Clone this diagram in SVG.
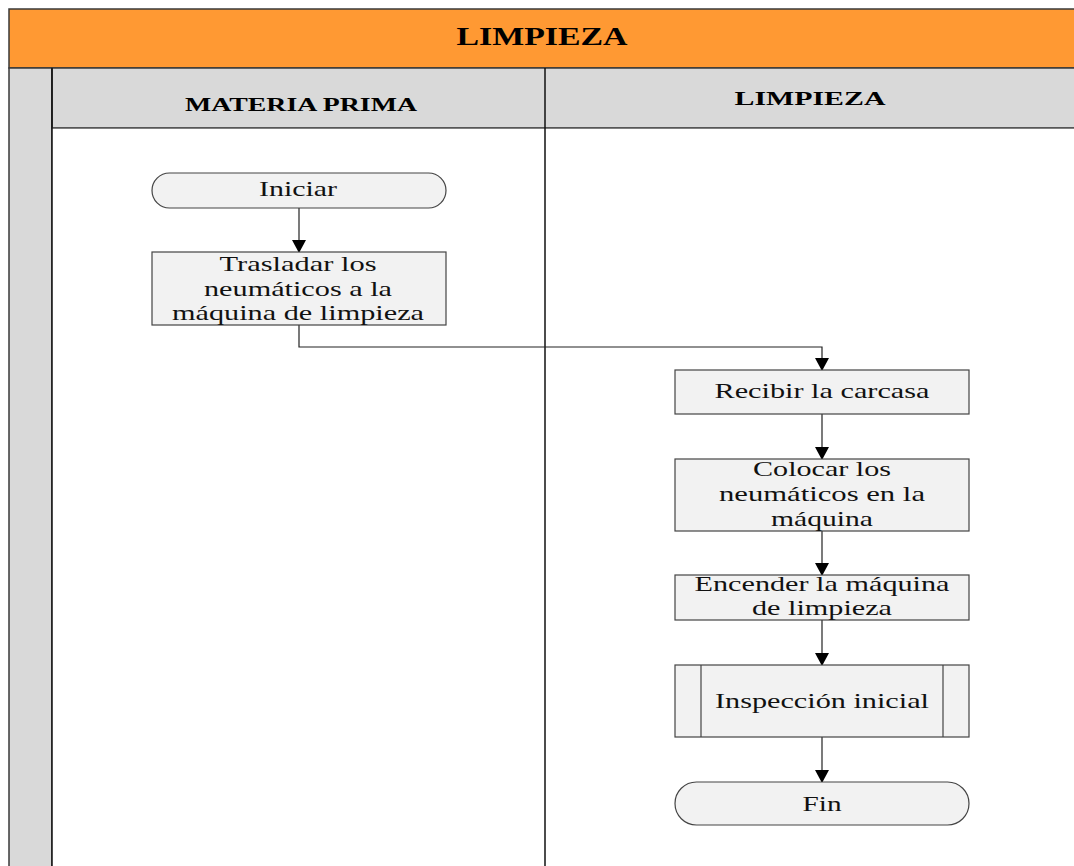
<svg xmlns="http://www.w3.org/2000/svg" width="1074" height="866" viewBox="0 0 1074 866">
  <style>
    .frame { stroke: #3a3a3a; stroke-width: 1.5; }
    .node { fill: #f2f2f2; stroke: #444; stroke-width: 1.2; }
    .txt { font-family: "Liberation Serif", "Times New Roman", serif; font-size: 21px; fill: #111; text-anchor: middle; }
    .hdr { font-family: "Liberation Serif", "Times New Roman", serif; font-weight: bold; fill: #000; text-anchor: middle; }
    .edge { fill: none; stroke: #222; stroke-width: 1.2; }
  </style>
  <defs>
    <marker id="arrow" markerWidth="14" markerHeight="14" refX="12" refY="7" orient="auto" markerUnits="userSpaceOnUse" viewBox="0 0 14 14">
      <path d="M0,0 L13,7 L0,14 Z" fill="#000"/>
    </marker>
  </defs>

  <rect width="1074" height="866" fill="#fff"/>

  <!-- pool title bar -->
  <g id="pool-title">
    <rect x="9" y="9" width="1080" height="59" fill="#ff9933" class="frame"/>
    <text class="hdr" x="542" y="45" font-size="26" textLength="171" lengthAdjust="spacingAndGlyphs">LIMPIEZA</text>
  </g>

  <!-- left pool strip -->
  <g id="pool-strip">
    <rect x="9" y="68" width="43" height="810" fill="#d9d9d9" class="frame"/>
  </g>

  <!-- lane headers -->
  <g id="lane-headers">
    <rect x="52" y="68" width="1030" height="60" fill="#d9d9d9" class="frame"/>
    <rect x="52" y="128" width="1030" height="750" fill="#fff" stroke="none"/>
    <line x1="52" y1="128" x2="1074" y2="128" stroke="#555" stroke-width="1.5"/>
    <line x1="545" y1="68" x2="545" y2="866" stroke="#111" stroke-width="1.5"/>
    <line x1="52" y1="68" x2="52" y2="866" stroke="#111" stroke-width="1.5"/>
    <text class="hdr" x="301" y="111" font-size="19" textLength="232" lengthAdjust="spacingAndGlyphs">MATERIA PRIMA</text>
    <text class="hdr" x="810" y="105" font-size="19" textLength="151" lengthAdjust="spacingAndGlyphs">LIMPIEZA</text>
  </g>

  <!-- connectors -->
  <g id="connectors">
    <path class="edge" d="M299,208 V252" marker-end="url(#arrow)"/>
    <path class="edge" d="M299,325 V347 H822 V370" marker-end="url(#arrow)"/>
    <path class="edge" d="M822,414 V459" marker-end="url(#arrow)"/>
    <path class="edge" d="M822,531 V575" marker-end="url(#arrow)"/>
    <path class="edge" d="M822,620 V665" marker-end="url(#arrow)"/>
    <path class="edge" d="M822,737 V782" marker-end="url(#arrow)"/>
  </g>

  <g id="n-iniciar">
    <rect class="node" x="152" y="173" width="294" height="35" rx="17.5" ry="17.5"/>
    <text class="txt" x="298" y="196" textLength="78" lengthAdjust="spacingAndGlyphs">Iniciar</text>
  </g>

  <g id="n-trasladar">
    <rect class="node" x="152" y="252" width="294" height="73"/>
    <text class="txt" x="298" y="271" textLength="157" lengthAdjust="spacingAndGlyphs">Trasladar los</text>
    <text class="txt" x="298" y="296" textLength="188" lengthAdjust="spacingAndGlyphs">neumáticos a la</text>
    <text class="txt" x="298" y="320" textLength="252" lengthAdjust="spacingAndGlyphs">máquina de limpieza</text>
  </g>

  <g id="n-recibir">
    <rect class="node" x="675" y="370" width="294" height="44"/>
    <text class="txt" x="822" y="398" textLength="215" lengthAdjust="spacingAndGlyphs">Recibir la carcasa</text>
  </g>

  <g id="n-colocar">
    <rect class="node" x="675" y="459" width="294" height="72"/>
    <text class="txt" x="822" y="476" textLength="138" lengthAdjust="spacingAndGlyphs">Colocar los</text>
    <text class="txt" x="822" y="501" textLength="206" lengthAdjust="spacingAndGlyphs">neumáticos en la</text>
    <text class="txt" x="822" y="526" textLength="102" lengthAdjust="spacingAndGlyphs">máquina</text>
  </g>

  <g id="n-encender">
    <rect class="node" x="675" y="575" width="294" height="45"/>
    <text class="txt" x="822" y="591" textLength="255" lengthAdjust="spacingAndGlyphs">Encender la máquina</text>
    <text class="txt" x="822" y="615" textLength="140" lengthAdjust="spacingAndGlyphs">de limpieza</text>
  </g>

  <g id="n-inspeccion">
    <rect class="node" x="675" y="665" width="294" height="72"/>
    <line x1="701" y1="665" x2="701" y2="737" stroke="#444" stroke-width="1.2"/>
    <line x1="943" y1="665" x2="943" y2="737" stroke="#444" stroke-width="1.2"/>
    <text class="txt" x="822" y="708" textLength="214" lengthAdjust="spacingAndGlyphs">Inspección inicial</text>
  </g>

  <g id="n-fin">
    <rect class="node" x="675" y="782" width="294" height="43" rx="21.5" ry="21.5"/>
    <text class="txt" x="822" y="811" textLength="39" lengthAdjust="spacingAndGlyphs">Fin</text>
  </g>
</svg>
